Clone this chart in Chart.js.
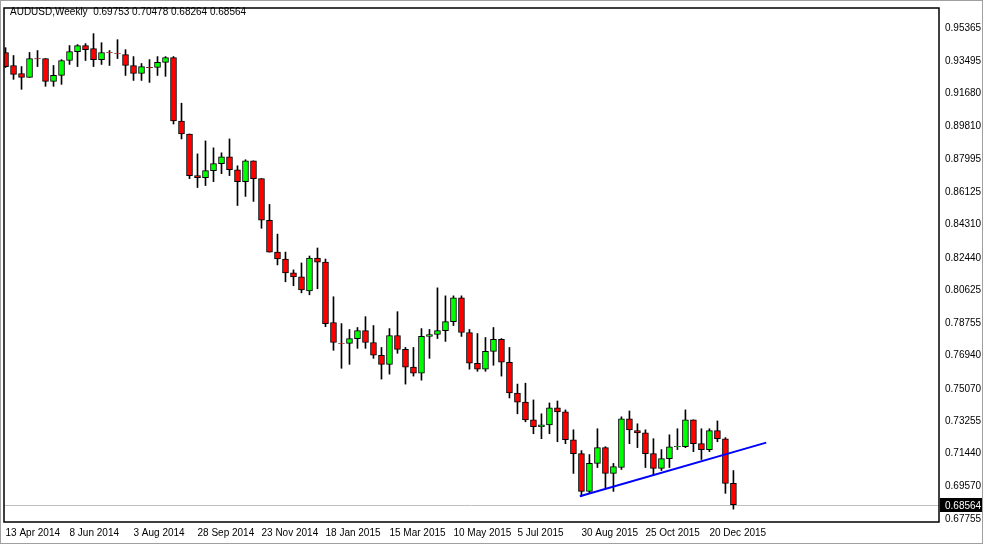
<!DOCTYPE html>
<html><head><meta charset="utf-8">
<script src="https://cdn.jsdelivr.net/npm/chart.js@4"></script>
<style>html,body{margin:0;padding:0;background:#fff;}#wrap{width:984px;height:545px;position:relative;}</style>
</head><body><div id="wrap"><canvas id="c" width="984" height="545"></canvas></div>
<script>
const title = "AUDUSD,Weekly  0.69753 0.70478 0.68264 0.68564";
const dateLabels = ["13 Apr 2014","8 Jun 2014","3 Aug 2014","28 Sep 2014","23 Nov 2014","18 Jan 2015","15 Mar 2015","10 May 2015","5 Jul 2015","30 Aug 2015","25 Oct 2015","20 Dec 2015"];
const dateLabelIndex = [0,8,16,24,32,40,48,56,64,72,80,88];
const priceTicks = [0.95365,0.93495,0.91680,0.89810,0.87995,0.86125,0.84310,0.82440,0.80625,0.78755,0.76940,0.75070,0.73255,0.71440,0.69570,0.67755];
const lastPrice = 0.68564;
const opens = [.9398,.9325,.9280,.9258,.9364,.9364,.9236,.9269,.9353,.9403,.9437,.9420,.9358,.9398,.9392,.9386,.9325,.9280,.9314,.9314,.9342,.9370,.9013,.8940,.8706,.8695,.8734,.8773,.8812,.8739,.8672,.8789,.8689,.8455,.8276,.8237,.8159,.8137,.8058,.8243,.8220,.7880,.7763,.7763,.7790,.7835,.7768,.7696,.7645,.7807,.7729,.7629,.7595,.7802,.7813,.7835,.7885,.8019,.7824,.7651,.7618,.7718,.7785,.7657,.7484,.7433,.7333,.7294,.7305,.7400,.7378,.7221,.7143,.6931,.7088,.7177,.7032,.7065,.7339,.7272,.7260,.7143,.7060,.7115,.7182,.7182,.7333,.7199,.7166,.7272,.7227,.6976];
const highs = [.9425,.9381,.9319,.9398,.9409,.9364,.9325,.9358,.9437,.9442,.9448,.9504,.9453,.9409,.9470,.9414,.9375,.9336,.9358,.9375,.9375,.9375,.9113,.8940,.8828,.8901,.8862,.8834,.8912,.8761,.8795,.8789,.8689,.8544,.8377,.8276,.8176,.8215,.8254,.8299,.8237,.8025,.7874,.7841,.7852,.7913,.7863,.7740,.7846,.7941,.7740,.7740,.7846,.7841,.8075,.8030,.8030,.8030,.7841,.7818,.7796,.7852,.7790,.7740,.7534,.7539,.7445,.7367,.7428,.7439,.7389,.7277,.7160,.7138,.7283,.7182,.7088,.7350,.7383,.7311,.7277,.7227,.7166,.7249,.7283,.7389,.7333,.7283,.7283,.7327,.7233,.7048];
const lows = [.9314,.9247,.9191,.9258,.9319,.9208,.9208,.9219,.9331,.9319,.9353,.9319,.9331,.9325,.9364,.9269,.9241,.9241,.9230,.9269,.9264,.8996,.8912,.8689,.8639,.8650,.8672,.8717,.8706,.8538,.8589,.8561,.8410,.8276,.8204,.8109,.8087,.8047,.8036,.8070,.7857,.7724,.7623,.7645,.7735,.7735,.7679,.7562,.7590,.7707,.7534,.7579,.7556,.7679,.7790,.7774,.7863,.7802,.7618,.7606,.7606,.7640,.7579,.7456,.7367,.7322,.7255,.7227,.7255,.7210,.7199,.7032,.6903,.6920,.7065,.6942,.6931,.7054,.7199,.7177,.7065,.7021,.7048,.7065,.7166,.7177,.7154,.7110,.7154,.7210,.6920,.6831];
const closes = [.9319,.9275,.9258,.9364,.9362,.9236,.9269,.9353,.9403,.9437,.9414,.9358,.9398,.9397,.9391,.9325,.9280,.9319,.9313,.9342,.9370,.9013,.8940,.8706,.8695,.8734,.8773,.8812,.8739,.8672,.8789,.8689,.8455,.8276,.8237,.8159,.8137,.8064,.8243,.8220,.7874,.7768,.7762,.7790,.7835,.7768,.7696,.7645,.7807,.7729,.7629,.7595,.7802,.7813,.7835,.7885,.8019,.7824,.7651,.7618,.7718,.7785,.7657,.7484,.7433,.7333,.7294,.7305,.7400,.7378,.7221,.7143,.6931,.7088,.7177,.7032,.7071,.7339,.7277,.7260,.7143,.7060,.7115,.7182,.7184,.7333,.7199,.7166,.7272,.7227,.6976,.6856];
const trendX = [71.8, 95.1];
const trendY = [0.6904, 0.7205];

const idx = opens.map((_, i) => i);
const wicks = idx.map(i => ({x: i, y: [lows[i], highs[i]]}));
const bodies = idx.map(i => ({x: i, y: [opens[i], closes[i]]}));
const bodyColors = idx.map(i => closes[i] >= opens[i] ? '#00ff00' : '#ff0000');
const FONT = {family: 'Liberation Sans, Arial, sans-serif', size: 10};

const frame = {
  id: 'frame',
  beforeDraw(ch) {
    const c = ch.ctx; c.save(); c.fillStyle = '#fff'; c.fillRect(0,0,ch.width,ch.height);
    c.strokeStyle = '#a0a0a0'; c.lineWidth = 1; c.strokeRect(0.5,0.5,ch.width-2,ch.height-2); c.restore();
  },
  beforeDatasetsDraw(ch) {
    const a = ch.chartArea, c = ch.ctx, y = ch.scales.y.getPixelForValue(lastPrice);
    c.save(); c.strokeStyle = '#c0c0c0'; c.lineWidth = 1;
    c.beginPath(); c.moveTo(a.left, Math.round(y)+0.5); c.lineTo(a.right, Math.round(y)+0.5); c.stroke(); c.restore();
  },
  afterDraw(ch) {
    const a = ch.chartArea, c = ch.ctx;
    c.save(); c.strokeStyle = '#000'; c.lineWidth = 1.5;
    c.strokeRect(a.left, a.top, a.right - a.left, a.bottom - a.top);
    c.font = '10px Liberation Sans, Arial, sans-serif'; c.fillStyle = '#000'; c.textBaseline = 'middle';
    c.fillText(title, 10, 12);
    const y = Math.round(ch.scales.y.getPixelForValue(lastPrice));
    c.fillStyle = '#000'; c.fillRect(a.right + 1, y - 7, 42, 14);
    c.fillStyle = '#fff'; c.fillText(lastPrice.toFixed(5), a.right + 6, y + 1);
    c.restore();
  }
};

new Chart(document.getElementById('c'), {
  type: 'bar',
  data: { datasets: [
    { type: 'line', data: trendX.map((x, i) => ({x, y: trendY[i]})), borderColor: '#0000ff', borderWidth: 2, pointRadius: 0, order: 0 },
    { data: bodies, backgroundColor: bodyColors, borderColor: '#000', borderWidth: 1, borderSkipped: false, barThickness: 6, grouped: false, order: 1 },
    { data: wicks, backgroundColor: '#000', borderWidth: 0, barThickness: 1, grouped: false, order: 2 }
  ]},
  options: {
    responsive: false, animation: false, devicePixelRatio: 1,
    layout: { padding: { left: 4, top: 4, right: 0, bottom: 0 } },
    plugins: { legend: { display: false }, tooltip: { enabled: false } },
    scales: {
      x: { type: 'linear', offset: false, min: -0.19, max: 116.7, grid: { display: false, offset: false, drawTicks: true, tickLength: 4, tickColor: '#000' },
        border: { display: false },
        afterBuildTicks: s => { s.ticks = dateLabelIndex.map(v => ({value: v})); },
        afterFit: s => { s.height = 23; },
        ticks: { align: 'start', maxRotation: 0, autoSkip: false, color: '#000', font: FONT, padding: 1,
          callback: (v) => dateLabels[dateLabelIndex.indexOf(v)] } },
      y: { position: 'right', min: 0.67588, max: 0.96481,
        grid: { display: false, drawTicks: true, tickLength: 4, tickColor: '#000' }, border: { display: false },
        afterBuildTicks: s => { s.ticks = priceTicks.map(v => ({value: v})); },
        afterFit: s => { s.width = 45; },
        ticks: { color: '#000', font: FONT, padding: 2, callback: v => v.toFixed(5) } }
    }
  },
  plugins: [frame]
});
</script></body></html>
